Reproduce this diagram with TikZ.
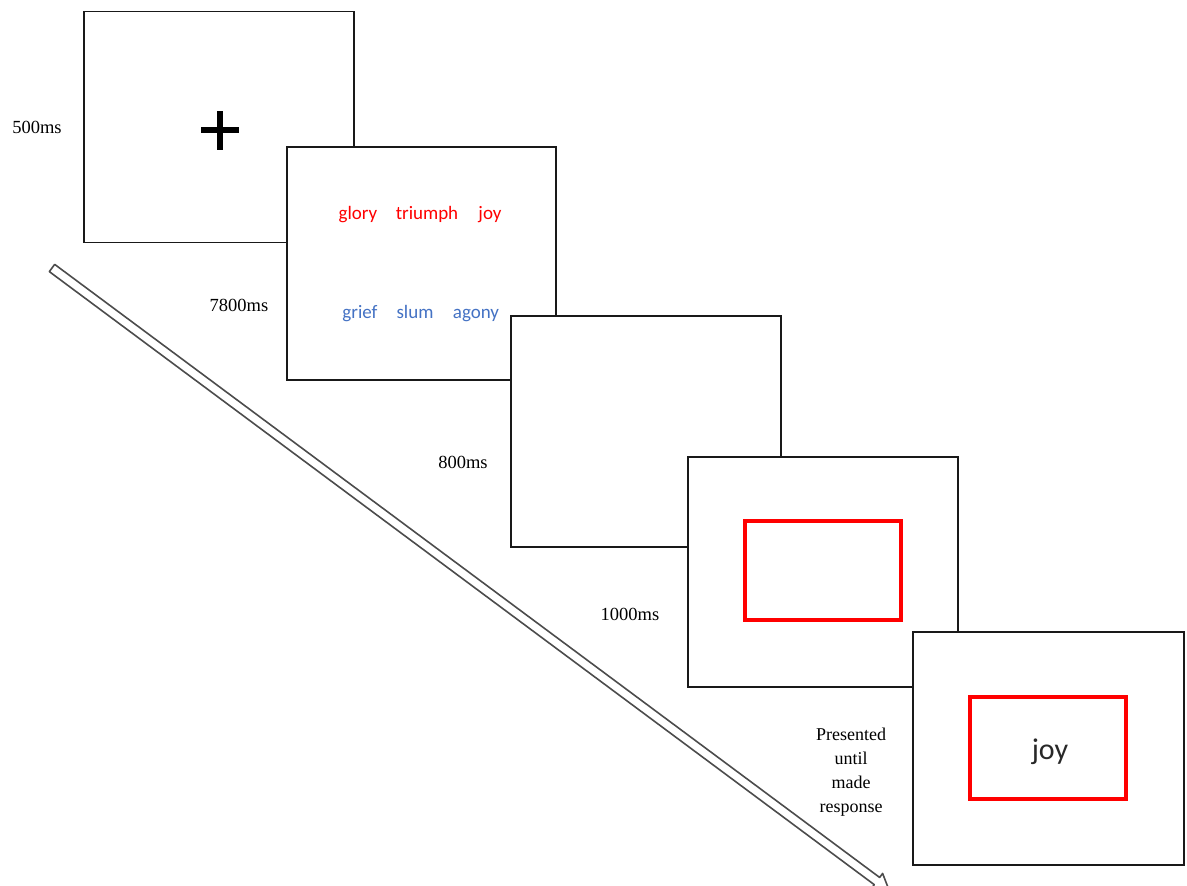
\documentclass[tikz,border=0pt]{standalone}
\usepackage{fontspec}
\setmainfont{Liberation Serif}
\newfontfamily\calfont{Carlito}
\usetikzlibrary{calc}
\definecolor{wordred}{RGB}{255,0,0}
\definecolor{wordblue}{RGB}{68,114,196}
\definecolor{joygray}{RGB}{40,40,40}
\begin{document}
\begin{tikzpicture}[x=1pt,y=-1pt,
  screen/.style={draw=black!90,line width=1.4pt,fill=white,inner sep=0pt,minimum width=270pt,minimum height=231pt},
  redframe/.style={draw=red,line width=3.8pt,inner sep=0pt,minimum width=156pt},
  timelabel/.style={font=\fontsize{18.5}{22}\selectfont,anchor=base,inner sep=0pt},
  wordtext/.style={font=\calfont\fontsize{19}{22}\selectfont,anchor=base,inner sep=0pt},
  timeline/.style={draw=black!70,line width=1.6pt,line join=round,fill=white}]
\useasboundingbox (0,0) rectangle (1187,886);
% timeline arrow
\coordinate (S) at (52,268);
\coordinate (T) at (889,890);
\coordinate (H) at ($(T)!15pt!(S)$);
\begin{scope}
\clip (0,0) rectangle (1187,886);
\draw[timeline] ($(S)!4.5pt!90:(T)$) -- ($(H)!4.5pt!90:(T)$) -- ($(H)!9.5pt!90:(T)$) -- (T)
  -- ($(H)!9.5pt!-90:(T)$) -- ($(H)!4.5pt!-90:(T)$) -- ($(S)!4.5pt!-90:(T)$) -- cycle;
\end{scope}
% screens
\node[screen] (s1) at (219,127) {};
\node[screen,minimum width=269pt,minimum height=233pt] (s2) at (421.5,263.5) {};
\node[screen] (s3) at (646,431.5) {};
\node[screen,minimum height=230pt] (s4) at (823,572) {};
\node[screen,minimum width=271pt,minimum height=233pt] (s5) at (1048.5,748.5) {};
% fixation cross
\coordinate (c1) at (220,130);
\draw[line width=5.5pt] ($(c1)+(-19,0)$) -- ($(c1)+(19,0)$);
\draw[line width=5.5pt] ($(c1)+(0,-19)$) -- ($(c1)+(0,20)$);
% words
\node[wordtext,text=wordred] (w1) at (358,219) {glory};
\node[wordtext,text=wordred] (w2) at (427,219) {triumph};
\node[wordtext,text=wordred] (w3) at (490,219) {joy};
\node[wordtext,text=wordblue] (w4) at (360,318) {grief};
\node[wordtext,text=wordblue] (w5) at (415,318) {slum};
\node[wordtext,text=wordblue] (w6) at (476,318) {agony};
% red frames
\node[redframe,minimum height=99pt] (r1) at (823,570.5) {};
\node[redframe,minimum height=102pt] (r2) at (1048,748) {};
\node[font=\calfont\fontsize{30}{34}\selectfont,text=joygray,anchor=base,inner sep=0pt] (j) at (1050,759) {joy};
% timing labels
\node[timelabel] (t1) at (37,133) {500ms};
\node[timelabel] (t2) at (239,311) {7800ms};
\node[timelabel] (t3) at (463,468) {800ms};
\node[timelabel] (t4) at (630,620) {1000ms};
\node[font=\fontsize{18}{24}\selectfont,align=center,anchor=center,inner sep=0pt] (t5) at (851,772) {Presented\\until\\made\\response};
\end{tikzpicture}
\end{document}
